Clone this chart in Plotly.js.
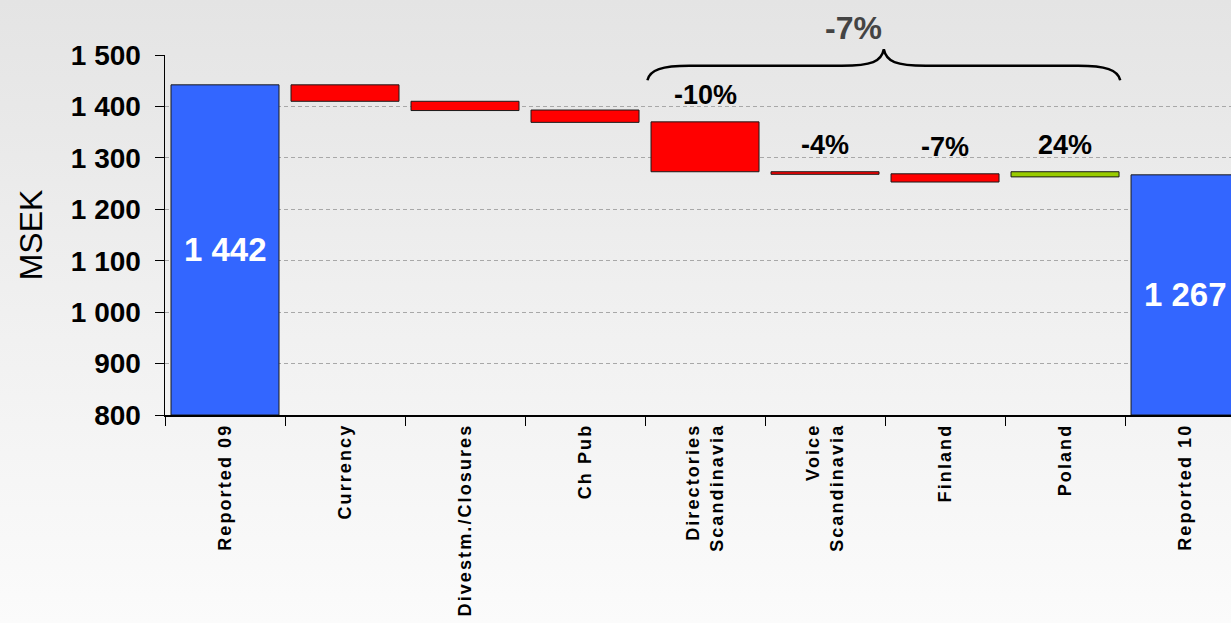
<!DOCTYPE html>
<html>
<head>
<meta charset="utf-8">
<script src="https://cdn.plot.ly/plotly-3.0.1.min.js"></script>
<style>
html, body { margin: 0; padding: 0; }
body { width: 1231px; height: 623px; background: linear-gradient(to bottom, #e4e4e4 0%, #f0f0f0 50%, #fbfbfb 100%); overflow: hidden; }
#chart { width: 1231px; height: 623px; }
.xtick text { letter-spacing: 2.1px; }
</style>
</head>
<body>
<div id="chart"></div>
<script>
// ---- data ----
const categories = ["Reported 09", "Currency", "Divestm./Closures", "Ch Pub",
  "Directories<br>Scandinavia", "Voice<br>Scandinavia", "Finland", "Poland", "Reported 10"];
const barLow  = [800, 1410, 1392, 1369, 1273, 1268, 1253, 1263, 800];
const barHigh = [1442, 1442, 1410, 1393, 1370, 1273, 1269, 1273, 1267];
const barKind = ["total", "down", "down", "down", "down", "down", "down", "up", "total"];
const totalLabels = ["1 442", "", "", "", "", "", "", "", "1 267"];
const pctLabels = ["", "", "", "", "-10%", "-4%", "-7%", "24%", ""];
const braceLabel = "-7%";
const yTickVals = [800, 900, 1000, 1100, 1200, 1300, 1400, 1500];

const kindColor = { total: "#3366ff", down: "#ff0000", up: "#99cc00" };
const xRange = [-0.5, 8.383];
const yRange = [800, 1500];

const trace = {
  type: "bar",
  x: categories,
  base: barLow,
  y: barHigh.map((h, i) => h - barLow[i]),
  width: 0.9,
  marker: { color: barKind.map(k => kindColor[k]), line: { color: "#1a1a1a", width: 1 } },
  hoverinfo: "skip",
  showlegend: false
};

const annotations = [];
categories.forEach((c, i) => {
  if (totalLabels[i]) {
    annotations.push({ x: c, y: (barLow[i] + barHigh[i]) / 2, xref: "x", yref: "y",
      text: totalLabels[i], showarrow: false,
      font: { family: "Liberation Sans, Arial, sans-serif", size: 33, color: "#ffffff", weight: "bold" } });
  }
  if (pctLabels[i]) {
    annotations.push({ x: c, y: barHigh[i], xref: "x", yref: "y", yanchor: "bottom", yshift: 10,
      text: pctLabels[i], showarrow: false,
      font: { family: "Liberation Sans, Arial, sans-serif", size: 27, color: "#000000", weight: "bold" } });
  }
});

// brace spanning Directories .. Poland
const px = idx => (idx - xRange[0]) / (xRange[1] - xRange[0]);
const py = v => (v - yRange[0]) / (yRange[1] - yRange[0]);
const bL = 3.52, bR = 7.46, bM = (bL + bR) / 2;
const yEnd = 1451, yH = 1479, yPk = 1511;
const P = (i, v) => px(i).toFixed(5) + "," + py(v).toFixed(5);
const bracePath =
  "M" + P(bL, yEnd) +
  " C" + P(bL + 0.02, yH - 8) + " " + P(bL + 0.12, yH) + " " + P(bL + 0.35, yH) +
  " L" + P(bM - 0.35, yH) +
  " C" + P(bM - 0.1, yH) + " " + P(bM - 0.02, yH + 8) + " " + P(bM, yPk) +
  " C" + P(bM + 0.02, yH + 8) + " " + P(bM + 0.1, yH) + " " + P(bM + 0.35, yH) +
  " L" + P(bR - 0.35, yH) +
  " C" + P(bR - 0.12, yH) + " " + P(bR - 0.02, yH - 8) + " " + P(bR, yEnd);

annotations.push({ x: px(bM), y: py(yPk), xref: "paper", yref: "paper", yanchor: "bottom", yshift: 1,
  text: braceLabel, showarrow: false,
  font: { family: "Liberation Sans, Arial, sans-serif", size: 32, color: "#444444", weight: "bold" } });

const layout = {
  width: 1231, height: 623,
  paper_bgcolor: "rgba(0,0,0,0)", plot_bgcolor: "rgba(0,0,0,0)",
  margin: { l: 165, r: 0, t: 55, b: 208, pad: 0 },
  separators: ". ",
  bargap: 0.1,
  xaxis: {
    type: "category", range: xRange, tickson: "boundaries",
    ticks: "outside", ticklen: 9, tickcolor: "#000", tickwidth: 1,
    showline: true, linecolor: "#000", linewidth: 1.5,
    tickangle: -90, showgrid: false, fixedrange: true,
    tickfont: { family: "Liberation Sans, Arial, sans-serif", size: 18, color: "#000", weight: "bold" }
  },
  yaxis: {
    range: yRange, tickvals: yTickVals, tickformat: ",d",
    ticks: "outside", ticklen: 9, tickcolor: "#000", tickwidth: 1,
    showline: true, linecolor: "#000", linewidth: 1.5,
    showgrid: true, gridcolor: "#a8a8a8", griddash: "4px,3px", gridwidth: 1,
    zeroline: false, fixedrange: true, ticklabelstandoff: 8,
    tickfont: { family: "Liberation Sans, Arial, sans-serif", size: 28, color: "#000", weight: "bold" },
    title: { text: "MSEK", standoff: 18,
      font: { family: "Liberation Sans, Arial, sans-serif", size: 32, color: "#000" } }
  },
  shapes: [{ type: "path", xref: "paper", yref: "paper", path: bracePath,
    line: { color: "#000", width: 2.5 } }],
  annotations: annotations
};

Plotly.newPlot("chart", [trace], layout, { staticPlot: true, displayModeBar: false });
</script>
</body>
</html>
